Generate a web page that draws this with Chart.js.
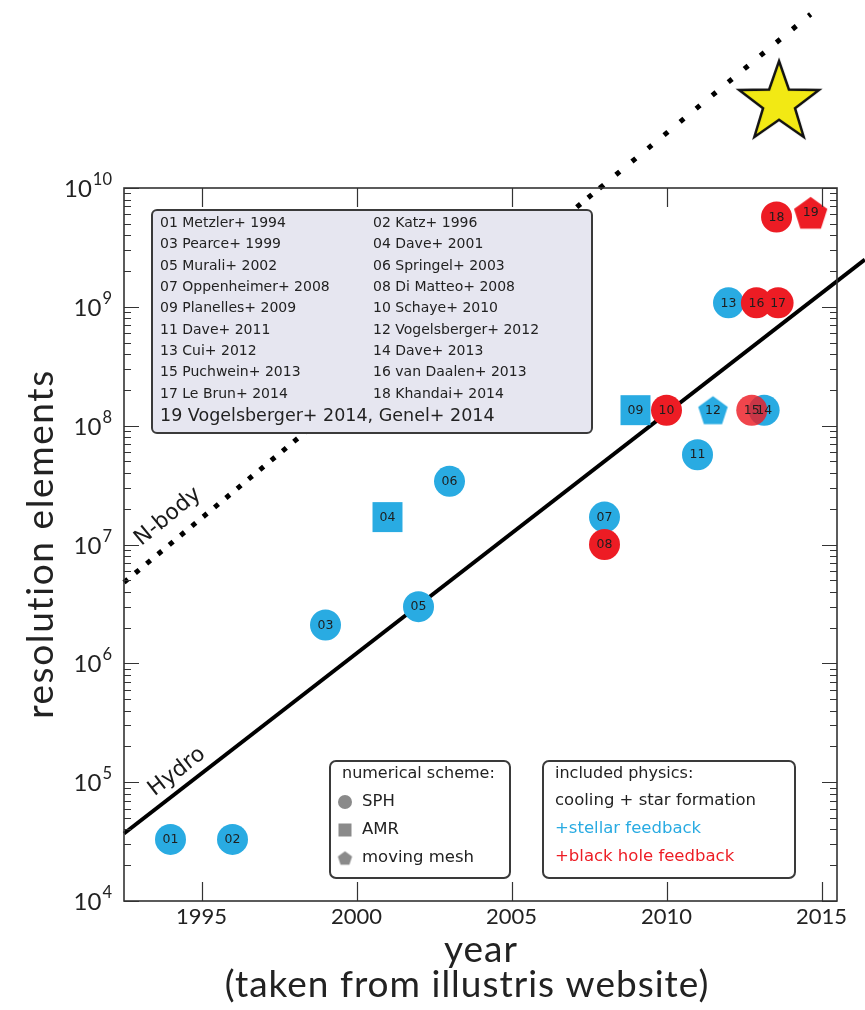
<!DOCTYPE html>
<html>
<head>
<meta charset="utf-8">
<script src="https://cdn.jsdelivr.net/npm/chart.js@4.4.1/dist/chart.umd.min.js"></script>
<style>
  html, body { margin: 0; padding: 0; background: #fff; }
  canvas { display: block; }
</style>
</head>
<body>
<canvas id="chart" width="865" height="1010"></canvas>
<script>
// ---- simulation points ----
const ids      = ['01','02','03','04','05','06','07','08','09','10','11','12','13','14','15','16','17','18','19'];
const years    = [1994, 1996, 1999, 2001, 2002, 2003, 2008, 2008, 2009, 2010, 2011, 2011.5, 2012, 2013.15, 2012.75, 2012.9, 2013.6, 2013.55, 2014.65];
const elements = [3.3e4, 3.3e4, 2.1e6, 1.7e7, 3.0e6, 3.4e7, 1.7e7, 1.0e7, 1.35e8, 1.35e8, 5.7e7, 1.35e8, 1.08e9, 1.35e8, 1.35e8, 1.08e9, 1.08e9, 5.7e9, 6.2e9];
const physics  = ['stellar','stellar','stellar','stellar','stellar','stellar','stellar','bh','stellar','bh','stellar','stellar','stellar','stellar','bh','bh','bh','bh','bh'];
const schemes  = ['SPH','SPH','SPH','AMR','SPH','SPH','SPH','SPH','AMR','SPH','SPH','mesh','SPH','SPH','SPH','SPH','SPH','SPH','mesh'];
const references = [
  '01 Metzler+ 1994', '02 Katz+ 1996', '03 Pearce+ 1999', '04 Dave+ 2001',
  '05 Murali+ 2002', '06 Springel+ 2003', '07 Oppenheimer+ 2008', '08 Di Matteo+ 2008',
  '09 Planelles+ 2009', '10 Schaye+ 2010', '11 Dave+ 2011', '12 Vogelsberger+ 2012',
  '13 Cui+ 2012', '14 Dave+ 2013', '15 Puchwein+ 2013', '16 van Daalen+ 2013',
  '17 Le Brun+ 2014', '18 Khandai+ 2014', '19 Vogelsberger+ 2014, Genel+ 2014'
];

// ---- trend lines ----
const hydroYears  = [1992.5, 2016.4];
const hydroCounts = [3.7e4, 2.5e9];
const nbodyYears  = [1992.5, 2007.85];
const nbodyCounts = [4.8e6, 1.0e10];
const nbodyExtYears  = [2007.85, 2014.65];
const nbodyExtCounts = [1.0e10, 2.9e11];

// ---- future target ----
const starYears  = [2013.63];
const starCounts = [5.5e10];

// ---- axes ----
const xTickYears = [1995, 2000, 2005, 2010, 2015];
const yDecades   = [4, 5, 6, 7, 8, 9, 10];

const BLUE = '#29abe2';
const RED  = '#ed1c24';
const GREY = '#8a8a8a';
const LABEL_FONT = 'Lato, "DejaVu Sans", sans-serif';
const SMALL_FONT = '"DejaVu Sans", sans-serif';

function pentagonCanvas(color, R) {
  const s = Math.ceil(2 * R + 2);
  const c = document.createElement('canvas');
  c.width = s; c.height = s;
  const g = c.getContext('2d');
  g.fillStyle = color;
  g.beginPath();
  for (let i = 0; i < 5; i++) {
    const a = -Math.PI / 2 + i * 2 * Math.PI / 5;
    g.lineTo(s / 2 + R * Math.cos(a), s / 2 + R * Math.sin(a) + R * 0.1);
  }
  g.closePath();
  g.fill();
  return c;
}

function starCanvas(R) {
  const s = Math.ceil(2 * R + 6);
  const c = document.createElement('canvas');
  c.width = s; c.height = s;
  const g = c.getContext('2d');
  const r = R * 0.4;
  g.beginPath();
  for (let i = 0; i < 10; i++) {
    const rad = i % 2 === 0 ? R : r;
    const a = -Math.PI / 2 + i * Math.PI / 5;
    g.lineTo(s / 2 + rad * Math.cos(a), s / 2 + rad * Math.sin(a) + 3);
  }
  g.closePath();
  g.fillStyle = '#f2e914';
  g.fill();
  g.lineWidth = 2.5;
  g.lineJoin = 'miter';
  g.strokeStyle = '#111';
  g.stroke();
  return c;
}

const colorOf = i => physics[i] === 'bh' ? RED : BLUE;
const markerStyles = schemes.map((s, i) => {
  if (s === 'SPH') return 'circle';
  if (s === 'AMR') return 'rect';
  return pentagonCanvas(colorOf(i), ids[i] === '19' ? 17.5 : 15.5);
});
const markerRadii = schemes.map(s => s === 'AMR' ? 21.2 : 15.5);
const markerColors = physics.map((p, i) => ids[i] === '15' ? 'rgba(237,28,36,0.82)' : colorOf(i));

const toPoints = (xs, ys) => xs.map((x, i) => ({ x: x, y: ys[i] }));

// frame, inward ticks, tick labels, annotations and legends
const decorations = {
  id: 'decorations',
  afterDatasetsDraw(chart) {
    const { ctx, chartArea: a, scales: { x, y } } = chart;
    ctx.save();

    // inward ticks
    ctx.strokeStyle = '#333';
    ctx.lineWidth = 1.2;
    ctx.beginPath();
    xTickYears.forEach(v => {
      const px = Math.round(x.getPixelForValue(v)) + 0.5;
      ctx.moveTo(px, a.bottom); ctx.lineTo(px, a.bottom - 19);
      ctx.moveTo(px, a.top);    ctx.lineTo(px, a.top + 19);
    });
    yDecades.forEach(d => {
      for (let m = 1; m <= 9; m++) {
        if (d === 10 && m > 1) break;
        const py = Math.round(y.getPixelForValue(m * Math.pow(10, d))) + 0.5;
        const len = m === 1 ? 15 : 7;
        ctx.moveTo(a.left, py);  ctx.lineTo(a.left + len, py);
        ctx.moveTo(a.right, py); ctx.lineTo(a.right - len, py);
      }
    });
    ctx.stroke();

    // frame
    ctx.lineWidth = 1.6;
    ctx.strokeRect(a.left, a.top, a.right - a.left, a.bottom - a.top);

    // numbers inside markers
    const meta = chart.getDatasetMeta(0);
    ctx.fillStyle = '#1e1e1e';
    ctx.font = '12.5px ' + SMALL_FONT;
    ctx.textAlign = 'center';
    ctx.textBaseline = 'middle';
    meta.data.forEach((el, i) => ctx.fillText(ids[i], el.x, el.y + 0.5));

    // line annotations, rotated along each trend
    const lineAngle = (xs, ys) => Math.atan2(
      y.getPixelForValue(ys[1]) - y.getPixelForValue(ys[0]),
      x.getPixelForValue(xs[1]) - x.getPixelForValue(xs[0]));
    const rotatedText = (txt, xv, yv, ang) => {
      ctx.save();
      ctx.translate(x.getPixelForValue(xv), y.getPixelForValue(yv));
      ctx.rotate(ang);
      ctx.fillText(txt, 0, 0);
      ctx.restore();
    };
    ctx.fillStyle = '#1a1a1a';
    ctx.font = '22px ' + SMALL_FONT;
    rotatedText('Hydro', 1994.21, 1.22e5, lineAngle(hydroYears, hydroCounts));
    rotatedText('N-body', 1993.92, 1.71e7, lineAngle(nbodyYears, nbodyCounts));

    // reference legend
    const box = (l, t, r, b, rad, fill, lw) => {
      ctx.beginPath();
      ctx.roundRect(l, t, r - l, b - t, rad);
      ctx.fillStyle = fill;
      ctx.fill();
      ctx.lineWidth = lw;
      ctx.strokeStyle = '#3a3a3a';
      ctx.stroke();
    };
    box(152, 210, 592, 433, 5, '#e6e6f0', 2);
    ctx.fillStyle = '#222';
    ctx.textAlign = 'left';
    ctx.textBaseline = 'middle';
    ctx.font = '14px ' + SMALL_FONT;
    references.slice(0, 18).forEach((t, k) => {
      const row = Math.floor(k / 2), col = k % 2;
      ctx.fillText(t, col === 0 ? 160 : 373, 223.5 + row * 21.3);
    });
    ctx.font = '17.5px ' + SMALL_FONT;
    ctx.fillText(references[18], 160, 416);

    // numerical scheme legend
    box(330, 761, 510, 878, 6, '#ffffff', 2);
    ctx.fillStyle = '#222';
    ctx.font = '16px ' + SMALL_FONT;
    ctx.fillText('numerical scheme:', 342, 774);
    ctx.font = '16.5px ' + SMALL_FONT;
    ctx.fillText('SPH', 362, 802);
    ctx.fillText('AMR', 362, 830);
    ctx.fillText('moving mesh', 362, 858);
    ctx.fillStyle = GREY;
    ctx.beginPath(); ctx.arc(345, 802, 7, 0, Math.PI * 2); ctx.fill();
    ctx.fillRect(338.5, 823.5, 13, 13);
    ctx.drawImage(pentagonCanvas(GREY, 7.5), 345 - 8.5, 858 - 8.5);

    // physics legend
    box(543, 761, 795, 878, 6, '#ffffff', 2);
    ctx.fillStyle = '#222';
    ctx.font = '16px ' + SMALL_FONT;
    ctx.fillText('included physics:', 555, 774);
    ctx.font = '16.5px ' + SMALL_FONT;
    ctx.fillText('cooling + star formation', 555, 801);
    ctx.fillStyle = BLUE;
    ctx.fillText('+stellar feedback', 555, 829);
    ctx.fillStyle = RED;
    ctx.fillText('+black hole feedback', 555, 857);

    ctx.restore();
  },
  afterDraw(chart) {
    const { ctx, chartArea: a, scales: { x, y } } = chart;
    ctx.save();
    ctx.fillStyle = '#222';

    // x tick labels
    ctx.font = '22px ' + LABEL_FONT;
    ctx.textAlign = 'center';
    ctx.textBaseline = 'alphabetic';
    xTickYears.forEach(v => ctx.fillText(String(v), x.getPixelForValue(v), 924));

    // y tick labels: 10 with raised exponent
    ctx.textAlign = 'left';
    yDecades.forEach(d => {
      const py = y.getPixelForValue(Math.pow(10, d));
      ctx.font = '16.5px ' + LABEL_FONT;
      const ew = ctx.measureText(String(d)).width;
      ctx.font = '24px ' + LABEL_FONT;
      const bw = ctx.measureText('10').width;
      const bx = 112 - ew - bw - 1;
      ctx.fillText('10', bx, py + 9);
      ctx.font = '16.5px ' + LABEL_FONT;
      ctx.fillText(String(d), bx + bw + 1, py - 3);
    });

    // axis titles
    ctx.font = '37px ' + LABEL_FONT;
    ctx.textAlign = 'center';
    ctx.letterSpacing = '1px';
    ctx.fillText('year', 481, 962);
    ctx.fillText('(taken from illustris website)', 467, 997);
    ctx.save();
    ctx.letterSpacing = '1.6px';
    ctx.translate(53, 544);
    ctx.rotate(-Math.PI / 2);
    ctx.fillText('resolution elements', 0, 0);
    ctx.restore();

    ctx.restore();
  }
};

new Chart(document.getElementById('chart'), {
  type: 'scatter',
  data: {
    datasets: [
      {
        label: 'simulations',
        data: toPoints(years, elements),
        pointStyle: markerStyles,
        pointRadius: markerRadii,
        pointBackgroundColor: markerColors,
        pointBorderWidth: 0,
        clip: false,
        order: 0
      },
      {
        label: 'target',
        data: toPoints(starYears, starCounts),
        pointStyle: starCanvas(42),
        pointRadius: 120,
        pointBorderWidth: 0,
        pointBackgroundColor: 'rgba(0,0,0,0)',
        clip: false,
        order: 0
      },
      {
        label: 'Hydro',
        data: toPoints(hydroYears, hydroCounts),
        showLine: true,
        borderColor: '#000',
        borderWidth: 4,
        pointRadius: 0,
        clip: false,
        order: 1
      },
      {
        label: 'N-body',
        data: toPoints(nbodyYears, nbodyCounts),
        showLine: true,
        borderColor: '#000',
        borderWidth: 5,
        borderDash: [5, 9.7],
        borderCapStyle: 'butt',
        pointRadius: 0,
        clip: false,
        order: 1
      },
      {
        label: 'N-body extrapolation',
        data: toPoints(nbodyExtYears, nbodyExtCounts),
        showLine: true,
        borderColor: '#000',
        borderWidth: 5,
        borderDash: [5, 15.8],
        borderCapStyle: 'butt',
        pointRadius: 0,
        clip: false,
        order: 1
      }
    ]
  },
  options: {
    responsive: false,
    animation: false,
    devicePixelRatio: 1,
    layout: { autoPadding: false, padding: { top: 188, right: 28, bottom: 0, left: 0 } },
    plugins: { legend: { display: false }, tooltip: { enabled: false } },
    events: [],
    scales: {
      x: {
        type: 'linear', min: 1992.5, max: 2015.5, bounds: 'data',
        ticks: { display: false }, grid: { display: false }, border: { display: false },
        afterFit(s) { s.height = 109; }
      },
      y: {
        type: 'logarithmic', min: 1e4, max: 1e10, bounds: 'data',
        ticks: { display: false }, grid: { display: false }, border: { display: false },
        afterFit(s) { s.width = 124; }
      }
    }
  },
  plugins: [decorations]
});
</script>
</body>
</html>
